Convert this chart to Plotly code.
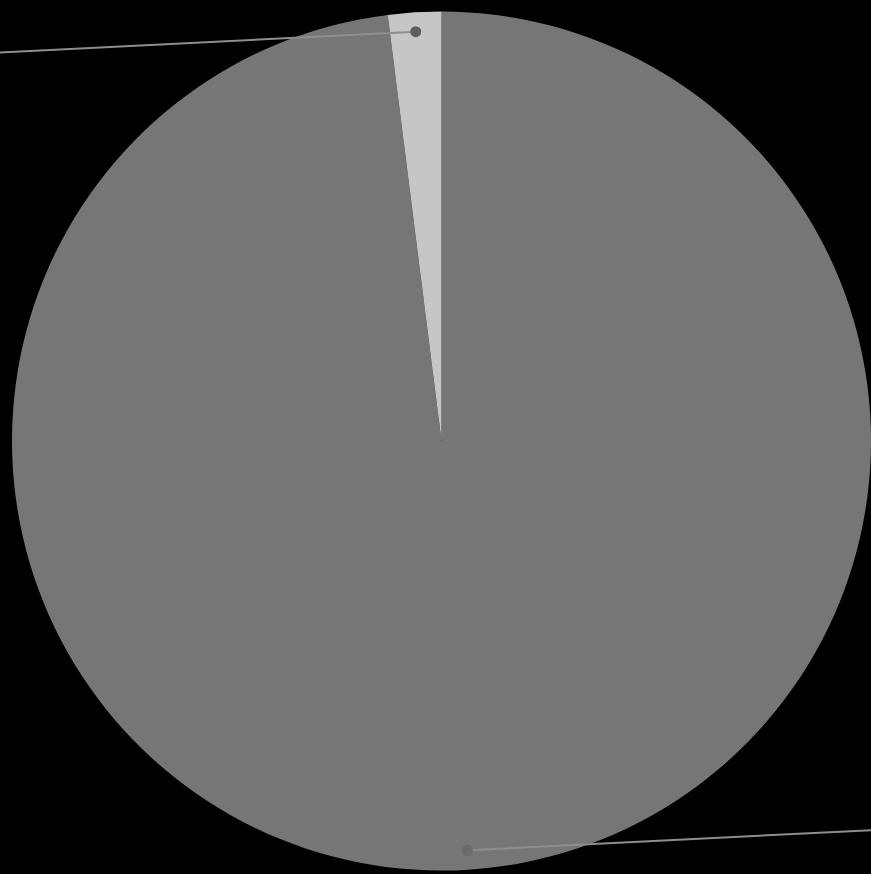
import math
import plotly.graph_objects as go

# ---- data ----
labels = ["B", "A"]
values = [98, 2]
colors = ["#767676", "#c6c6c6"]
dot_colors = ["#6b6b6b", "#5e5e5e"]

# ---- layout / style parameters ----
W, H = 871, 874
dom_x = [12 / W, 1.0]
dom_y = [2 / H, 864 / H]
line_color = "#8e8e8e"
dot_r_frac = 0.955
line_len = 700
line_slope = 0.05
dot_rad = 5.5

fig = go.Figure()
fig.add_trace(go.Pie(
    labels=labels, values=values, sort=False, direction="clockwise",
    rotation=0, marker=dict(colors=colors, line=dict(width=0)),
    textinfo="none", hoverinfo="label+value+percent", showlegend=False,
    domain=dict(x=dom_x, y=dom_y),
))

# pie geometry in pixel space (derived from domain)
dw = (dom_x[1] - dom_x[0]) * W
dh = (dom_y[1] - dom_y[0]) * H
R = min(dw, dh) / 2
cx = dom_x[0] * W + dw / 2
cy = H - (dom_y[0] * H + dh / 2)

shapes = []
total = sum(values)
cum = 0
for i, v in enumerate(values):
    mid = (cum + v / 2) / total * 2 * math.pi  # clockwise from top
    cum += v
    rd = R * dot_r_frac
    px = cx + rd * math.sin(mid)
    py = cy - rd * math.cos(mid)
    if math.sin(mid) < 0:   # left half -> line goes left
        ex, ey = px - line_len, py + line_len * line_slope
    else:
        ex, ey = px + line_len, py - line_len * line_slope
    shapes.append(dict(type="line", xref="x", yref="y", x0=px, y0=py, x1=ex, y1=ey,
                       line=dict(color=line_color, width=2), layer="above"))
    shapes.append(dict(type="circle", xref="x", yref="y",
                       x0=px - dot_rad, x1=px + dot_rad, y0=py - dot_rad, y1=py + dot_rad,
                       fillcolor=dot_colors[i], line=dict(width=0), layer="above"))

fig.update_layout(
    width=W, height=H, margin=dict(l=0, r=0, t=0, b=0),
    paper_bgcolor="#000000", plot_bgcolor="rgba(0,0,0,0)",
    xaxis=dict(range=[0, W], visible=False, fixedrange=True, domain=[0, 1]),
    yaxis=dict(range=[H, 0], visible=False, fixedrange=True, domain=[0, 1]),
    shapes=shapes,
)

fig.write_html("out.html")
